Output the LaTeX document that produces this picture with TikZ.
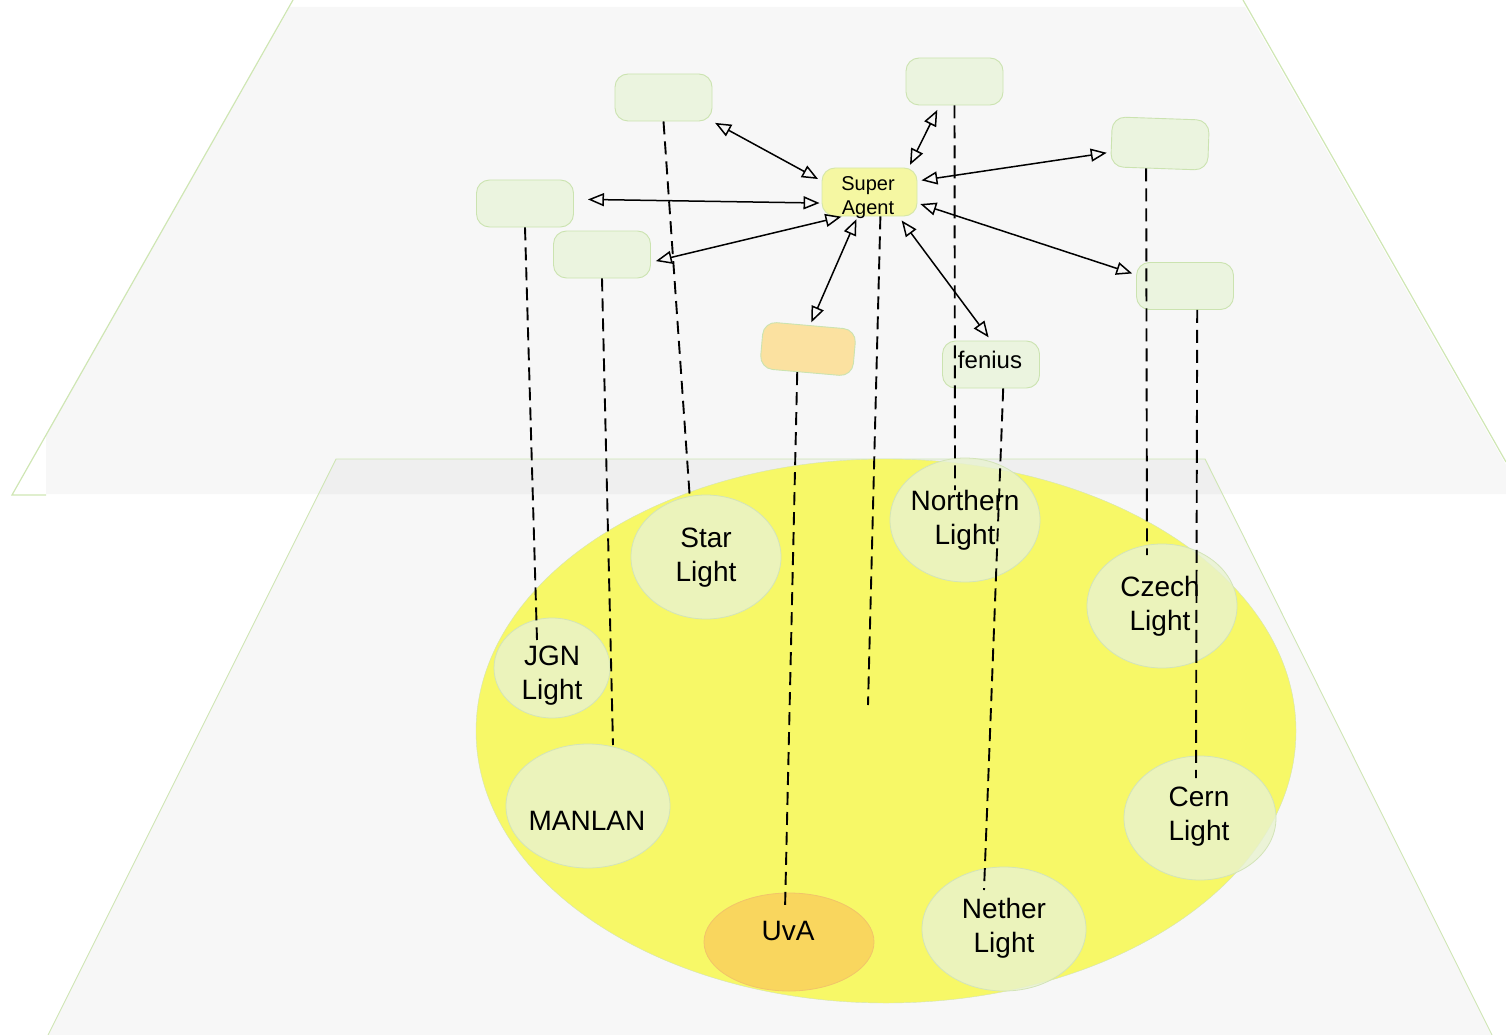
\documentclass[tikz,border=0pt]{standalone}
\usepackage{fontspec}
\setmainfont{Liberation Sans}
\usetikzlibrary{arrows.meta,shapes.geometric}
\definecolor{planefill}{HTML}{F7F7F7}
\definecolor{planeline}{HTML}{CFE6B4}
\definecolor{bandfill}{HTML}{EFEFEF}
\definecolor{bigyellow}{HTML}{F7F867}
\definecolor{siteline}{HTML}{D3E4B8}
\definecolor{sitefill}{HTML}{E8F2D0}
\definecolor{uvafill}{HTML}{F9D65E}
\definecolor{uvaline}{HTML}{F2C46A}
\definecolor{boxfill}{HTML}{EBF4DF}
\definecolor{boxline}{HTML}{CBE3B0}
\definecolor{safill}{HTML}{F5F7A2}
\definecolor{saline}{HTML}{D5E6A8}
\definecolor{orfill}{HTML}{FBE1A0}
\begin{document}
\begin{tikzpicture}[x=1pt,y=-1pt,
 site/.style={ellipse, draw=siteline, fill=sitefill, fill opacity=0.8, line width=0.8pt, inner sep=0pt},
 sitetext/.style={font=\fontsize{28}{34}\selectfont, align=center, inner sep=0pt, text=black},
 agentbox/.style={rectangle, rounded corners=13pt, draw=boxline, fill=boxfill, line width=0.9pt, minimum width=97pt, minimum height=47pt, inner sep=0pt},
 link/.style={draw=black, line width=1.5pt, {Triangle[open,length=16pt,width=13pt]}-{Triangle[open,length=16pt,width=13pt]}},
 drop/.style={draw=black, line width=1.9pt, dash pattern=on 13pt off 7pt}]
\useasboundingbox (0,0) rectangle (1506,1035);
% planes
\fill[planefill] (290,7) -- (1245,7) -- (1506,465) -- (1506,494) -- (46,494) -- (46,435) -- cycle;
\fill[planefill] (336,459) -- (1205,459) -- (1492,1035) -- (48,1035) -- cycle;
\fill[bandfill] (336,459) -- (1205,459) -- (1222.5,494) -- (318.5,494) -- cycle;
\draw[planeline, line width=1.2pt] (293,0) -- (12,495) -- (46,495);
\draw[planeline, line width=1.2pt] (1243,0) -- (1506,462);
\draw[planeline, line width=0.9pt] (48,1035) -- (336,459) -- (1205,459) -- (1492,1035);
% field
\node[ellipse, draw=siteline, fill=bigyellow, minimum width=820pt, minimum height=544pt, inner sep=0pt] (field) at (886,731) {};
% sites
\node[site, minimum width=150pt, minimum height=124pt] (star) at (706,557) {};
\node[sitetext] (starT) at (706,558) {Star\\Light};
\node[site, minimum width=150pt, minimum height=124pt] (north) at (965,520) {};
\node[sitetext] (northT) at (965,520) {Northern\\Light};
\node[site, minimum width=150pt, minimum height=124pt] (czech) at (1162,606) {};
\node[sitetext] (czechT) at (1160,606) {Czech\\Light};
\node[site, minimum width=116pt, minimum height=100pt] (jgn) at (552,668) {};
\node[sitetext] (jgnT) at (552,676) {JGN\\Light};
\node[site, minimum width=164pt, minimum height=124pt] (manlan) at (588,806) {};
\node[sitetext] (manlanT) at (587,821) {MANLAN};
\node[site, minimum width=152pt, minimum height=124pt] (cern) at (1200,818) {};
\node[sitetext] (cernT) at (1199,817) {Cern\\Light};
\node[site, minimum width=164pt, minimum height=124pt] (nether) at (1004,929) {};
\node[sitetext] (netherT) at (1004,928) {Nether\\Light};
\node[ellipse, draw=uvaline, fill=uvafill, line width=0.8pt, inner sep=0pt, minimum width=170pt, minimum height=98pt] (uva) at (789,942) {};
\node[sitetext] (uvaT) at (788,931) {UvA};
% agent boxes
\node[agentbox] (b1) at (663.5,97.5) {};
\node[agentbox] (b2) at (954.5,81.5) {};
\node[agentbox, minimum height=50pt, rotate=-2] (b3) at (1160,143.5) {};
\node[agentbox] (b4) at (525,203.5) {};
\node[agentbox] (b5) at (602,254.5) {};
\node[agentbox] (b6) at (1185,286) {};
\node[agentbox, fill=orfill, minimum width=93pt, rotate=-5] (orange) at (808,349) {};
\node[agentbox] (fenius) at (991,364.5) {};
\node[font=\fontsize{24}{28}\selectfont, inner sep=0pt] (feniusT) at (990,360) {fenius};
\node[agentbox, fill=safill, draw=saline, minimum width=95pt, minimum height=48pt] (sa) at (869.5,192) {};
\node[font=\fontsize{20}{24}\selectfont, align=center, inner sep=0pt] (saT) at (868,198) {Super\\Agent};
% free ends of the drop lines
\coordinate (jgnEnd) at (537,640);
\coordinate (manlanEnd) at (613,745);
\coordinate (uvaEnd) at (785,910);
\coordinate (saEnd) at (868,705);
\coordinate (northEnd) at (955,490);
\coordinate (netherEnd) at (984,890);
\coordinate (czechEnd) at (1147,555);
\coordinate (cernEnd) at (1196,778);
% drop lines
\draw[drop] (b1.south) -- (star.105);
\draw[drop] (b4.south) -- (jgnEnd);
\draw[drop] (b5.south) -- (manlanEnd);
\draw[drop] (orange.250) -- (uvaEnd);
\draw[drop] (sa.294) -- (saEnd);
\draw[drop] (b2.south) -- (northEnd);
\draw[drop] (fenius.297) -- (netherEnd);
\draw[drop] (b3.243) -- (czechEnd);
\draw[drop] (b6.297) -- (cernEnd);
% links
\draw[link, shorten <=3pt, shorten >=4pt] (b1.south east) -- (sa.167);
\draw[link, shorten <=5pt, shorten >=3pt] (b2.238) -- (sa.32);
\draw[link, shorten <=4pt, shorten >=4pt] (b3.192) -- (sa.13);
\draw[link, shorten <=14pt, shorten >=2pt] (b4.5) -- (sa.193);
\draw[link, shorten <=5pt, shorten >=1pt] (b5.351) -- (sa.222);
\draw[link, shorten <=3pt, shorten >=3pt] (orange.north) -- (sa.244);
\draw[link, shorten <=4pt, shorten >=5pt] (fenius.north) -- (sa.320);
\draw[link, shorten <=4pt, shorten >=3pt] (b6.167) -- (sa.347);
\end{tikzpicture}
\end{document}
